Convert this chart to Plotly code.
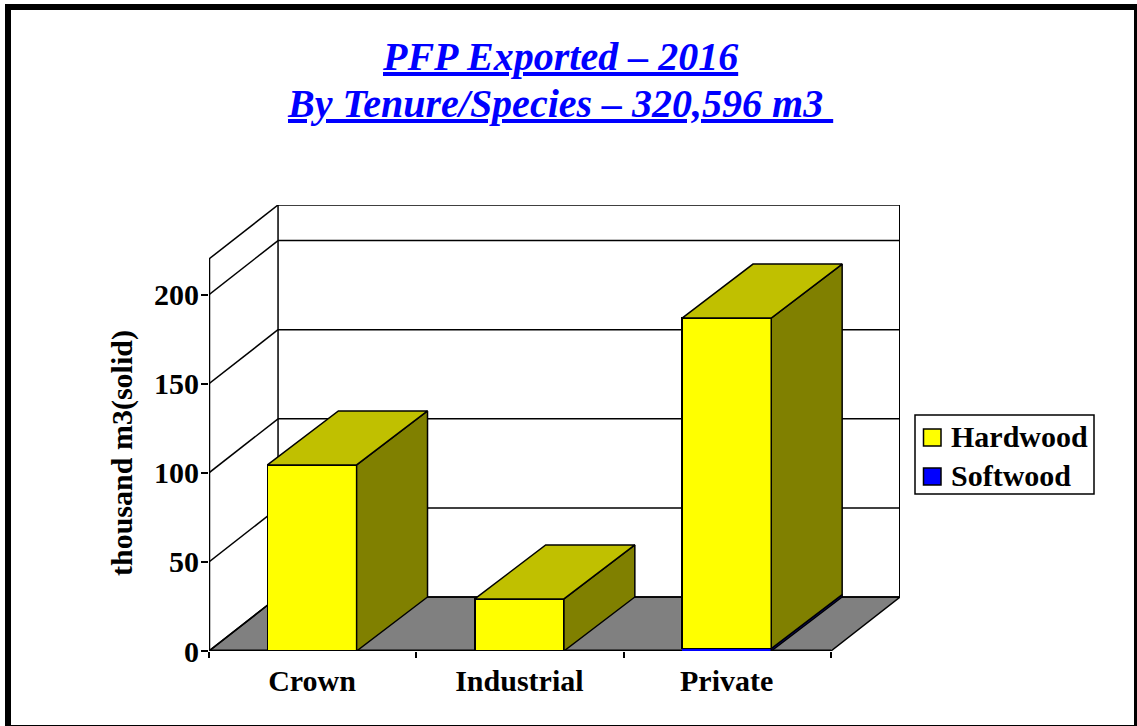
import plotly.graph_objects as go

categories = ["Crown", "Industrial", "Private"]
hardwood = [104.4, 29.2, 185.4]
softwood = [0.0, 0.0, 1.4]
y_ticks = [0, 50, 100, 150, 200]
wall_top = 220
title_lines = ["PFP Exported – 2016", "By Tenure/Species – 320,596 m3\u00a0"]
y_title = "thousand m3(solid)"
series_names = ["Hardwood", "Softwood"]

W, H = 1137, 726
L, R, T, B = 209, 900, 205, 651
SCALE = 1.782                 # pixels per thousand m3
DX, DY = 0.333, 54 / SCALE    # oblique depth of the box, in data units
BAR_W = 0.43
BAR_DX = 0.342
FONT = "Liberation Serif"
px = lambda p: (p - L) / (R - L)
py = lambda p: (B - p) / (B - T)
n = len(categories)
xs = [i + 0.497 for i in range(n)]
LW = 1.5

fig = go.Figure()

# front faces
fig.add_bar(x=xs, y=softwood, width=BAR_W, name=series_names[1],
            marker=dict(color="#0000FF", line=dict(color="#0000FF", width=0.5)),
            showlegend=False, hoverinfo="skip")
fig.add_bar(x=xs, y=hardwood, width=BAR_W, name=series_names[0],
            marker=dict(color="#FFFF00", line=dict(color="black", width=LW)),
            showlegend=False, hoverinfo="skip")


def faces(base, value):
    top_x, top_y, side_x, side_y = [], [], [], []
    for c, b, v in zip(xs, base, value):
        if v <= 0:
            continue
        a, e, t = c - BAR_W / 2, c + BAR_W / 2, b + v
        top_x += [a, e, e + BAR_DX, a + BAR_DX, a, None]
        top_y += [t, t, t + DY, t + DY, t, None]
        side_x += [e, e + BAR_DX, e + BAR_DX, e, e, None]
        side_y += [b, b + DY, t + DY, t, b, None]
    return top_x, top_y, side_x, side_y


tx, ty, sx, sy = faces([0] * n, softwood)
fig.add_scatter(x=sx, y=sy, mode="lines", fill="toself", fillcolor="#000080",
                line=dict(color="black", width=LW), showlegend=False, hoverinfo="skip")
tx, ty, sx, sy = faces(softwood, hardwood)
for X, Y, col in [(sx, sy, "#808000"), (tx, ty, "#C0C000")]:
    fig.add_scatter(x=X, y=Y, mode="lines", fill="toself", fillcolor=col,
                    line=dict(color="black", width=LW), showlegend=False, hoverinfo="skip")

shapes = []
line = dict(color="black", width=LW)
# floor
shapes.append(dict(type="path", layer="below", xref="x", yref="y",
                   path=f"M0,0 L{n},0 L{n + DX},{DY} L{DX},{DY} Z", fillcolor="#808080", line=line))
# walls
for v in y_ticks + [wall_top]:
    shapes.append(dict(type="line", layer="below", x0=0, y0=v, x1=DX, y1=v + DY, line=line))
    shapes.append(dict(type="line", layer="below", x0=DX, y0=v + DY, x1=n + DX, y1=v + DY, line=line))
shapes.append(dict(type="line", layer="below", x0=DX, y0=DY, x1=DX, y1=wall_top + DY, line=line))
shapes.append(dict(type="line", layer="below", x0=n + DX, y0=DY, x1=n + DX, y1=wall_top + DY,
                   line=dict(color="black", width=2)))
shapes.append(dict(type="line", layer="below", x0=0, y0=0, x1=0, y1=wall_top, line=dict(color="black", width=2.5)))
shapes.append(dict(type="line", layer="below", x0=0, y0=0, x1=n, y1=0, line=dict(color="black", width=3)))


def paper_rect(x0, y0, x1, y1, fill, lw=0):
    return dict(type="rect", xref="paper", yref="paper", x0=px(x0), x1=px(x1), y0=py(y0), y1=py(y1),
                fillcolor=fill, line=dict(color="black", width=lw))


# picture frame
for box in [(5, 4, 11, 726), (5, 4, 1137, 10), (1134, 4, 1137, 726), (5, 725, 1137, 726)]:
    shapes.append(paper_rect(*box, "black"))
# legend box and swatches
shapes.append(paper_rect(915, 415, 1094, 494, "white", 1.5))
shapes.append(paper_rect(923.5, 429, 941, 446, "#FFFF00", 1.5))
shapes.append(paper_rect(923.5, 468, 941, 485, "#0000FF", 1.5))

title_font = dict(family=FONT, size=40, color="#0000FF", weight="bold", style="italic", lineposition="under")
annotations = [
    dict(xref="paper", yref="paper", x=px(560), y=py(yc), xanchor="center", yanchor="middle", showarrow=False,
         text=t, font=title_font)
    for t, yc in zip(title_lines, [56, 104])
]
annotations.append(dict(xref="paper", yref="paper", x=px(122), y=py(453), xanchor="center", yanchor="middle",
                        showarrow=False, textangle=-90, text=f"<b>{y_title}</b>",
                        font=dict(family=FONT, size=30, color="black")))
for name, yc in zip(series_names, [436, 475]):
    annotations.append(dict(xref="paper", yref="paper", x=px(949), y=py(yc), xanchor="left", yanchor="middle",
                            showarrow=False, text=f"<b>{name}</b>",
                            font=dict(family=FONT, size=30, color="black")))

fig.update_layout(
    width=W, height=H, autosize=False, showlegend=False,
    margin=dict(l=L, r=W - R, t=T, b=H - B, pad=0),
    paper_bgcolor="white", plot_bgcolor="white",
    barmode="stack", shapes=shapes, annotations=annotations,
    font=dict(family=FONT, color="black", size=30),
    xaxis=dict(range=[0, n + DX], tickmode="array", tickvals=xs, ticktext=[f"<b>{c}</b>" for c in categories],
               ticks="", showgrid=False, zeroline=False, showline=False, ticklabelstandoff=9,
               tickfont=dict(family=FONT, size=30, color="black"),
               minor=dict(tickmode="array", tickvals=list(range(n + 1)), ticks="outside", ticklen=6,
                          tickcolor="black", tickwidth=1.5, showgrid=False)),
    yaxis=dict(range=[0, (B - T) / SCALE], tickmode="array", tickvals=y_ticks,
               ticktext=[f"<b>{v}</b>" for v in y_ticks], ticks="outside", ticklen=7, tickcolor="black", tickwidth=1.5,
               showgrid=False, zeroline=False, showline=False, ticklabelstandoff=-4,
               tickfont=dict(family=FONT, size=30, color="black")),
)
fig.write_html("out.html", post_script="document.body.style.margin='0';document.body.style.overflow='hidden';",
               config=dict(displayModeBar=False))
